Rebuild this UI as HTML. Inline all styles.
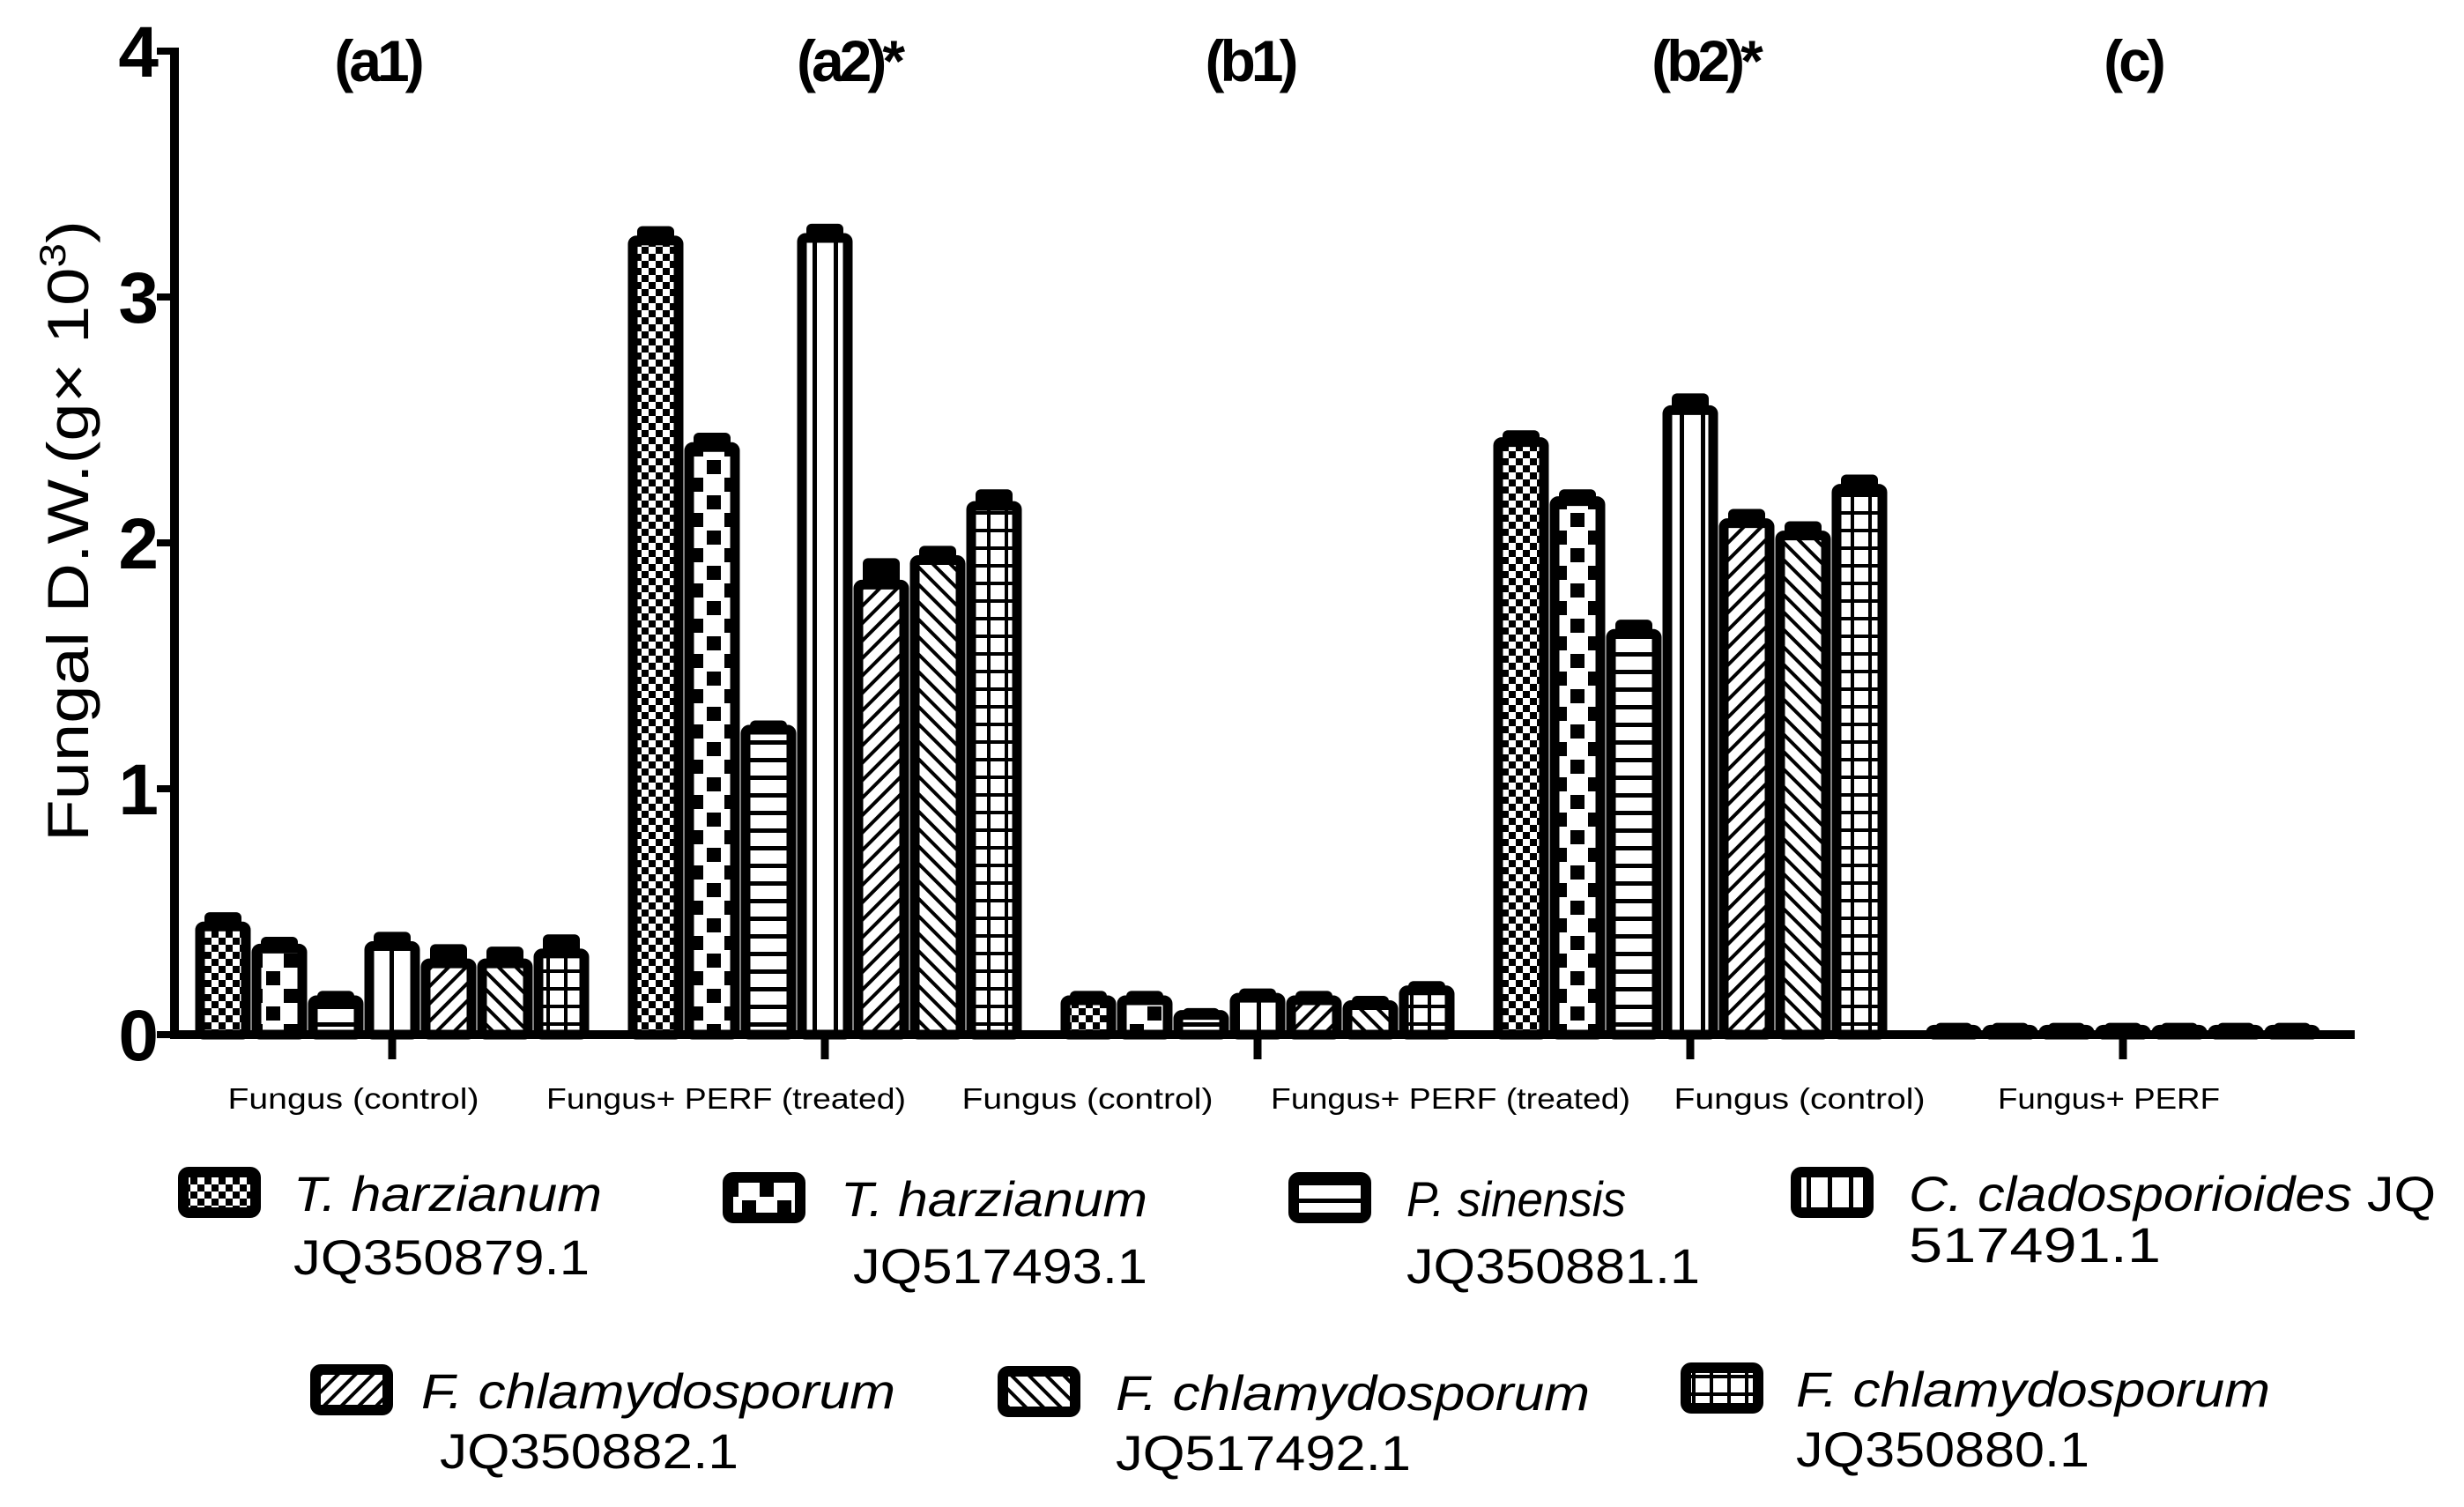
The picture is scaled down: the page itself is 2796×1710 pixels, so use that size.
<!DOCTYPE html>
<html><head><meta charset="utf-8"><style>
html,body{margin:0;padding:0;background:#fff;}
svg{display:block;}
text{font-family:"Liberation Sans",sans-serif;fill:#000;}
</style></head><body>
<svg id="chart" width="2796" height="1710" viewBox="0 0 2796 1710" xmlns="http://www.w3.org/2000/svg">
<defs>
<pattern id="p0" width="16" height="16" patternUnits="userSpaceOnUse"><rect width="16" height="16" fill="#fff"/><rect width="8" height="8" fill="#000"/><rect x="8" y="8" width="8" height="8" fill="#000"/></pattern>
<pattern id="p1" width="40" height="40" patternUnits="userSpaceOnUse"><rect width="40" height="40" fill="#fff"/><rect x="2" y="2" width="16" height="16" fill="#000"/><rect x="22" y="22" width="16" height="16" fill="#000"/></pattern>
<pattern id="p2" width="20" height="20" patternUnits="userSpaceOnUse"><rect width="20" height="20" fill="#fff"/><rect y="0" width="20" height="5" fill="#000"/></pattern>
<pattern id="p3" width="24" height="20" patternUnits="userSpaceOnUse"><rect width="24" height="20" fill="#fff"/><rect x="10" width="5" height="20" fill="#000"/></pattern>
<pattern id="p4" width="14" height="14" patternUnits="userSpaceOnUse" patternTransform="rotate(45)"><rect width="14" height="14" fill="#fff"/><rect width="4" height="14" fill="#000"/></pattern>
<pattern id="p5" width="14" height="14" patternUnits="userSpaceOnUse" patternTransform="rotate(-45)"><rect width="14" height="14" fill="#fff"/><rect width="4" height="14" fill="#000"/></pattern>
<pattern id="p6" width="20" height="20" patternUnits="userSpaceOnUse"><rect width="20" height="20" fill="#fff"/><rect width="20" height="4" fill="#000"/><rect width="4" height="20" fill="#000"/></pattern>
</defs>
<g id="bars"></g>
<g id="axes"></g>
<g id="legend"></g>
</svg>
<script>
const groups = ["a1","a2","b1","b2","c"];
const panelLabels = ["(a1)","(a2)*","(b1)","(b2)*","(c)"];
const seriesNames = ["T. harzianum JQ350879.1","T. harzianum JQ517493.1","P. sinensis JQ350881.1","C. cladosporioides JQ517491.1","F. chlamydosporum JQ350882.1","F. chlamydosporum JQ517492.1","F. chlamydosporum JQ350880.1"];
const valuesA1 = [0.44,0.35,0.14,0.36,0.29,0.29,0.33];
const valuesA2 = [3.23,2.39,1.24,3.24,1.83,1.93,2.15];
const valuesB1 = [0.14,0.14,0.08,0.15,0.14,0.12,0.18];
const valuesB2 = [2.41,2.17,1.63,2.54,2.08,2.03,2.22];
const valuesC  = [0.02,0.02,0.02,0.02,0.02,0.02,0.02];
const errA1 = [0.04,0.03,0.02,0.04,0.06,0.05,0.06];
const errA2 = [0.04,0.04,0.02,0.04,0.09,0.04,0.05];
const errB1 = [0.02,0.02,0.01,0.02,0.02,0.02,0.02];
const errB2 = [0.03,0.03,0.04,0.05,0.04,0.04,0.04];
const errC  = [0.01,0.01,0.01,0.01,0.01,0.01,0.01];
const yTicks = [0,1,2,3,4];
const catLabels = ["Fungus (control)","Fungus+ PERF (treated)","Fungus (control)","Fungus+ PERF (treated)","Fungus (control)","Fungus+ PERF"];

const NS="http://www.w3.org/2000/svg";
function mk(tag, attrs, parent){const e=document.createElementNS(NS,tag);for(const k in attrs)e.setAttribute(k,attrs[k]);parent.appendChild(e);return e;}
const X0=198, Y0=1174, YTOP=58, XEND=2672;
const y = v => Y0 - v*(Y0-YTOP)/4;
const groupX = i => 445 + i*491;
const PITCH=64, BW=52;
const barX = (g,s) => groupX(g) + (s-3)*PITCH - BW/2;

const allVals=[valuesA1,valuesA2,valuesB1,valuesB2,valuesC];
const allErr=[errA1,errA2,errB1,errB2,errC];
const barsG=document.getElementById('bars');
allVals.forEach((vals,g)=>{
  vals.forEach((v,s)=>{
    const bx=barX(g,s), top=y(v), etop=y(v+allErr[g][s]);
    const r=mk('rect',{x:bx,y:top,width:BW,height:Y0-top,fill:'url(#p'+s+')',stroke:'#000','stroke-width':11,rx:4},barsG);
    
    
    const eb=mk('rect',{x:bx+BW/2-21,y:etop-5,width:42,height:Math.max(top-etop+7,13),fill:'#000',rx:6},barsG);
    
    
  });
});

const ax=document.getElementById('axes');
let l=mk('line',{x1:X0,y1:YTOP-4,x2:X0,y2:Y0+5,stroke:'#000','stroke-width':10},ax);


l=mk('line',{x1:X0-4,y1:Y0,x2:XEND,y2:Y0,stroke:'#000','stroke-width':10},ax);


yTicks.forEach(t=>{
  const tk=mk('line',{x1:X0-20,y1:y(t),x2:X0,y2:y(t),stroke:'#000','stroke-width':8},ax);
  
  
  const tx=mk('text',{x:180,y:y(t)+29,'text-anchor':'end','font-size':82,'font-weight':'bold'},ax);
  tx.textContent=t;
  
  
});
groups.forEach((g,i)=>{
  const tk=mk('line',{x1:groupX(i),y1:Y0,x2:groupX(i),y2:Y0+28,stroke:'#000','stroke-width':9},ax);
  
  
});
const panelX=[428,963,1418,1935,2420];
panelLabels.forEach((p,i)=>{
  const t=mk('text',{x:panelX[i],y:92,'text-anchor':'middle','font-size':66,'font-weight':'bold','letter-spacing':-5},ax);
  t.textContent=p;
  
  
});
const catX=[401,824,1234,1646,2042,2393];
const catW=[285,408,285,408,285,252];
catLabels.forEach((c,i)=>{
  const t=mk('text',{x:catX[i]-catW[i]/2,y:1258,'font-size':33,textLength:catW[i],lengthAdjust:'spacingAndGlyphs'},ax);
  t.textContent=c;
  
  
});
const yt=mk('text',{transform:'translate(100,955) rotate(-90)','font-size':66,textLength:705,lengthAdjust:'spacingAndGlyphs'},ax);
yt.innerHTML='Fungal  D.W.(g× 10<tspan dy="-26" font-size="42">3</tspan><tspan dy="26">)</tspan>';



const lg=document.getElementById('legend');
const legendItems=[
 {sx:208,sy:1330,n:"T. harzianum",nx:333,nw:350,id:"JQ350879.1",ix:333,iw:336,ny:1374,iy:1446},
 {sx:826,sy:1336,n:"T. harzianum",nx:954,nw:348,id:"JQ517493.1",ix:968,iw:334,ny:1380,iy:1456},
 {sx:1468,sy:1336,n:"P. sinensis",nx:1596,nw:249,id:"JQ350881.1",ix:1596,iw:333,ny:1380,iy:1456},
 {sx:2038,sy:1330,n:"C. cladosporioides JQ",nx:2166,nw:598,id:"517491.1",ix:2166,iw:286,ny:1374,iy:1432},
 {sx:358,sy:1554,n:"F. chlamydosporum",nx:478,nw:538,id:"JQ350882.1",ix:499,iw:339,ny:1598,iy:1666},
 {sx:1138,sy:1556,n:"F. chlamydosporum",nx:1266,nw:538,id:"JQ517492.1",ix:1266,iw:335,ny:1600,iy:1668},
 {sx:1913,sy:1552,n:"F. chlamydosporum",nx:2038,nw:538,id:"JQ350880.1",ix:2038,iw:333,ny:1596,iy:1664}
];
legendItems.forEach((it,s)=>{
  const sw=mk('rect',{x:it.sx,y:it.sy,width:82,height:46,fill:'url(#p'+s+')',stroke:'#000','stroke-width':12,rx:6},lg);
  
  
  const t=mk('text',{x:it.nx,y:it.ny,'font-size':56,'font-style':'italic',textLength:it.nw,lengthAdjust:'spacingAndGlyphs'},lg);
  if(s===3){t.innerHTML='C. cladosporioides <tspan font-style="normal">JQ</tspan>';}else{t.textContent=it.n;}
  
  
  const t2=mk('text',{x:it.ix,y:it.iy,'font-size':56,textLength:it.iw,lengthAdjust:'spacingAndGlyphs'},lg);
  t2.textContent=it.id;
  
  
});
</script>
</body></html>
